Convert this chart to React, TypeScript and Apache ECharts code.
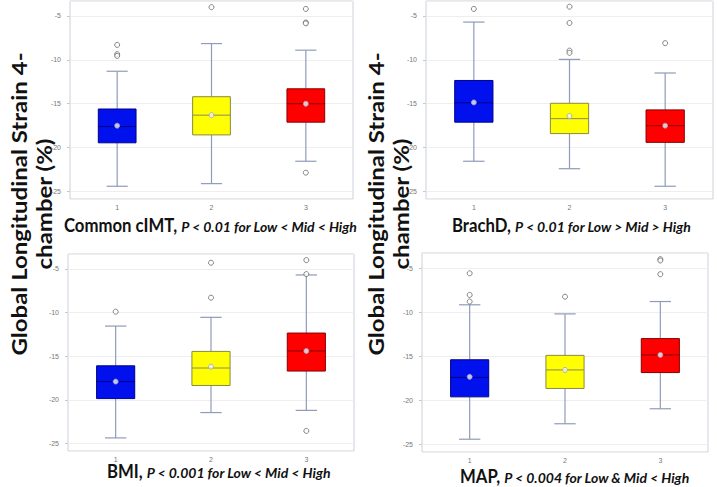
import React, { useEffect, useRef } from 'react';
import * as echarts from 'echarts';

const CATEGORIES = ['1', '2', '3'];
const PANEL_NAMES = ['Common cIMT,', 'BrachD,', 'BMI,', 'MAP,'];
const PANEL_PVALUES = [
  'P < 0.01 for Low < Mid < High',
  'P < 0.01 for Low > Mid > High',
  'P < 0.001 for Low < Mid < High',
  'P < 0.004 for Low & Mid < High',
];
const Y_TITLE = 'Global Longitudinal Strain 4-\nchamber (%)';

// each row: [min, Q1, median, Q3, max]
const CIMT_BOX = [
  [-24.4, -19.45, -17.6, -15.6, -11.3],
  [-24.1, -18.55, -16.3, -14.2, -8.15],
  [-21.55, -17.1, -15.0, -13.3, -8.9],
];
const CIMT_MEAN = [-17.5, -16.3, -15.0];
const CIMT_OUT = [[0, -8.3], [0, -9.35], [0, -9.55], [1, -4.0], [2, -4.2], [2, -5.75], [2, -5.85], [2, -22.85]];

const BRACHD_BOX = [
  [-21.55, -17.1, -14.9, -12.35, -5.7],
  [-22.4, -18.4, -16.7, -14.95, -9.95],
  [-24.4, -19.4, -17.5, -15.7, -11.5],
];
const BRACHD_MEAN = [-14.85, -16.4, -17.5];
const BRACHD_OUT = [[0, -4.2], [1, -3.95], [1, -5.8], [1, -8.95], [1, -9.2], [2, -8.1]];

const BMI_BOX = [
  [-24.35, -19.85, -17.9, -16.1, -11.55],
  [-21.45, -18.35, -16.35, -14.45, -10.55],
  [-21.2, -16.7, -14.4, -12.35, -5.7],
];
const BMI_MEAN = [-17.9, -16.2, -14.4];
const BMI_OUT = [[0, -9.9], [1, -4.3], [1, -8.3], [2, -4.0], [2, -5.6], [2, -23.55]];

const MAP_BOX = [
  [-24.4, -19.6, -17.4, -15.4, -9.17],
  [-22.65, -18.65, -16.55, -14.9, -10.2],
  [-20.95, -16.85, -14.85, -13.0, -8.8],
];
const MAP_MEAN = [-17.33, -16.55, -14.85];
const MAP_OUT = [[0, -5.6], [0, -8.05], [0, -8.8], [1, -8.25], [2, -4.0], [2, -4.15], [2, -5.7]];

const PANELS = [
  { box: CIMT_BOX, mean: CIMT_MEAN, out: CIMT_OUT },
  { box: BRACHD_BOX, mean: BRACHD_MEAN, out: BRACHD_OUT },
  { box: BMI_BOX, mean: BMI_MEAN, out: BMI_OUT },
  { box: MAP_BOX, mean: MAP_MEAN, out: MAP_OUT },
];

const Y_MIN = -25.85;
const Y_MAX = -3.3;

const GRIDS = [
  { left: 70, top: 1, width: 283, height: 198 },
  { left: 426, top: 1, width: 287, height: 198 },
  { left: 68, top: 254, width: 286, height: 197 },
  { left: 422, top: 253, width: 286, height: 199 },
];
const TITLE_POS = [
  { x: 64, y: 225 },
  { x: 452, y: 225 },
  { x: 107, y: 471 },
  { x: 460, y: 476 },
];

const FILLS = ['#0011ee', '#ffff00', '#ff0000'];
const BORDERS = ['#000088', '#8a8a40', '#880000'];
const MEDIANS = ['#000088', '#8a8a60', '#880000'];
const WHISKER = '#8e9cb8';

const NAME_FONT = { family: 'Lato', size: 19, scale: 0.88 };
const P_FONT = { family: 'Lato', size: 14 };

const measure = (text: string, font: string) => {
  const c = document.createElement('canvas').getContext('2d');
  if (!c) return text.length * 10;
  c.font = font;
  return c.measureText(text).width;
};

const renderBox = (params: any, api: any) => {
  const xi = api.value(0);
  const lo = api.coord([xi, api.value(1)]);
  const q1 = api.coord([xi, api.value(2)]);
  const md = api.coord([xi, api.value(3)]);
  const q3 = api.coord([xi, api.value(4)]);
  const hi = api.coord([xi, api.value(5)]);
  const bw = api.size([1, 0])[0] * 0.4;
  const cw = bw * 0.56;
  const cx = q1[0];
  const i = params.dataIndex;
  const ws = { stroke: WHISKER, lineWidth: 1.2 };
  return {
    type: 'group',
    children: [
      { type: 'line', shape: { x1: cx, y1: hi[1], x2: cx, y2: q3[1] }, style: ws },
      { type: 'line', shape: { x1: cx, y1: q1[1], x2: cx, y2: lo[1] }, style: ws },
      { type: 'line', shape: { x1: cx - cw / 2, y1: hi[1], x2: cx + cw / 2, y2: hi[1] }, style: ws },
      { type: 'line', shape: { x1: cx - cw / 2, y1: lo[1], x2: cx + cw / 2, y2: lo[1] }, style: ws },
      {
        type: 'rect',
        shape: { x: cx - bw / 2, y: q3[1], width: bw, height: q1[1] - q3[1] },
        style: { fill: FILLS[i], stroke: BORDERS[i], lineWidth: 1 },
      },
      { type: 'line', shape: { x1: cx - bw / 2, y1: md[1], x2: cx + bw / 2, y2: md[1] }, style: { stroke: MEDIANS[i], lineWidth: 1 } },
    ],
  };
};

export default function App() {
  const ref = useRef<HTMLDivElement>(null);
  useEffect(() => {
    if (!ref.current) return;
    const chart = echarts.init(ref.current, undefined, { renderer: 'svg' });
    const grid = GRIDS.map((g) => ({
      ...g,
      show: true,
      borderColor: '#cdd0da',
      borderWidth: 1,
      backgroundColor: '#ffffff',
    }));
    const xAxis = PANELS.map((_, k) => ({
      gridIndex: k,
      type: 'category',
      data: CATEGORIES,
      axisLine: { show: false },
      axisTick: { show: false },
      axisLabel: { fontSize: 7, color: '#777', margin: 5, fontFamily: 'Liberation Sans' },
      splitLine: { show: false },
    }));
    const yAxis = PANELS.map((_, k) => ({
      gridIndex: k,
      type: 'value',
      min: Y_MIN,
      max: Y_MAX,
      splitNumber: 5,
      axisLine: { show: false },
      axisTick: { show: true, length: 3, lineStyle: { color: '#c8c8c8' } },
      axisLabel: {
        fontSize: 7,
        color: '#777',
        margin: 9,
        fontFamily: 'Liberation Sans',
        showMinLabel: false,
        showMaxLabel: false,
      },
      splitLine: { show: true, lineStyle: { color: '#eeeeee', width: 1 } },
    }));
    const series: any[] = [];
    PANELS.forEach((p, k) => {
      series.push({
        type: 'custom',
        xAxisIndex: k,
        yAxisIndex: k,
        renderItem: renderBox,
        encode: { x: 0, y: [1, 2, 3, 4, 5] },
        data: p.box.map((s, i) => [i, ...s]),
        z: 2,
      });
      series.push({
        type: 'scatter',
        xAxisIndex: k,
        yAxisIndex: k,
        symbol: 'circle',
        symbolSize: 5,
        itemStyle: { color: '#ffffff', borderColor: '#666', borderWidth: 1 },
        data: p.out,
        z: 3,
      });
      series.push({
        type: 'scatter',
        xAxisIndex: k,
        yAxisIndex: k,
        symbol: 'circle',
        symbolSize: 5,
        itemStyle: { color: '#f4f4ff', borderColor: '#a0a4c0', borderWidth: 1 },
        data: p.mean.map((m, i) => [i, m]),
        z: 4,
      });
    });
    const yTitle = (x: number) => ({
      type: 'text',
      x,
      y: 204,
      rotation: Math.PI / 2,
      scaleY: 0.9,
      style: {
        text: Y_TITLE,
        fontFamily: 'Lato',
        fontWeight: 'bold',
        fontSize: 24,
        lineHeight: 27,
        fill: '#111',
        align: 'center',
        verticalAlign: 'middle',
      },
    });
    const graphic: any[] = [yTitle(31), yTitle(388)];
    PANEL_NAMES.forEach((name, k) => {
      const nameW = measure(name, `bold ${NAME_FONT.size}px ${NAME_FONT.family}`) * NAME_FONT.scale;
      graphic.push({
        type: 'text',
        x: TITLE_POS[k].x,
        y: TITLE_POS[k].y,
        scaleX: NAME_FONT.scale,
        style: {
          text: name,
          fontFamily: NAME_FONT.family,
          fontWeight: 'bold',
          fontSize: NAME_FONT.size,
          fill: '#111',
          align: 'left',
          verticalAlign: 'middle',
        },
      });
      graphic.push({
        type: 'text',
        x: TITLE_POS[k].x + nameW + 4,
        y: TITLE_POS[k].y + 1.5,
        style: {
          text: PANEL_PVALUES[k],
          fontFamily: P_FONT.family,
          fontWeight: 'bold',
          fontStyle: 'italic',
          fontSize: P_FONT.size,
          fill: '#111',
          align: 'left',
          verticalAlign: 'middle',
        },
      });
    });
    chart.setOption({
      animation: false,
      backgroundColor: '#ffffff',
      grid,
      xAxis,
      yAxis,
      series,
      graphic,
    });
    return () => chart.dispose();
  }, []);
  return <div ref={ref} style={{ position: 'fixed', left: 0, top: 0, width: 717, height: 487 }} />;
}
